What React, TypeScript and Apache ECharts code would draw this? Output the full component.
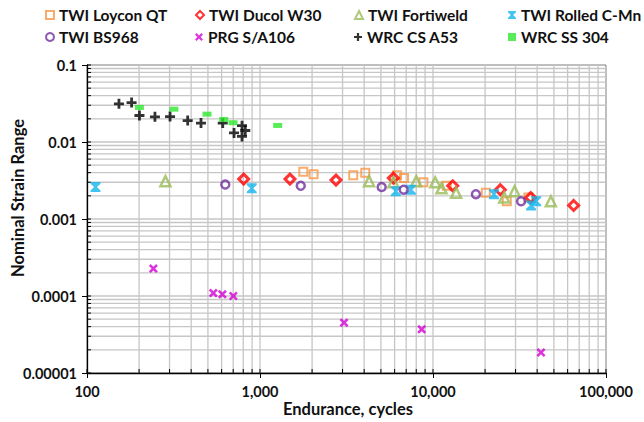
import React, { useEffect, useRef } from "react";
import * as echarts from "echarts";

// ---- data (Endurance cycles, Nominal strain range) ----
const loyconN = [1780, 2040, 3460, 4060, 6200, 6800, 8800, 12000, 20200, 26700, 35600];
const loyconS = [0.0041, 0.0038, 0.0037, 0.004, 0.0037, 0.0034, 0.003, 0.0027, 0.0022, 0.0017, 0.0019];

const ducolN = [805, 1490, 2750, 5900, 13000, 24500, 36700, 65000];
const ducolS = [0.0033, 0.0033, 0.0032, 0.0034, 0.0027, 0.0024, 0.0019, 0.0015];

const fortiN = [284, 4270, 5900, 8000, 10300, 11200, 13600, 25800, 29600, 48000];
const fortiS = [0.0031, 0.0031, 0.003, 0.0031, 0.003, 0.0025, 0.0022, 0.0019, 0.0023, 0.0017];

const rolledN = [112, 896, 6100, 7450, 22500, 36900, 39500];
const rolledS = [0.0026, 0.0025, 0.0023, 0.0024, 0.0021, 0.0015, 0.0017];

const bsN = [630, 1720, 5050, 6770, 17700, 32300];
const bsS = [0.0028, 0.0027, 0.0026, 0.0024, 0.0021, 0.0017];

const prgN = [242, 537, 606, 701, 3060, 8600, 42100];
const prgS = [0.000227, 0.000109, 0.000105, 0.0001, 0.0000451, 0.0000369, 0.0000185];

const wrcCsN = [153, 181, 201, 247, 302, 382, 456, 609, 708, 787, 822, 787];
const wrcCsS = [0.0313, 0.0325, 0.0221, 0.0212, 0.0214, 0.019, 0.0176, 0.0176, 0.0131, 0.0163, 0.0141, 0.0118];

const wrcSsN = [201, 318, 494, 617, 698, 1265];
const wrcSsS = [0.0281, 0.0267, 0.023, 0.0196, 0.0178, 0.0164];

const xMin = 100;
const xMax = 100000;
const yMin = 0.00001;
const yMax = 0.1;
const xDecades = [100, 1000, 10000];
const yDecades = [0.00001, 0.0001, 0.001, 0.01];
const multipliers = [1, 2, 3, 4, 5, 6, 7, 8, 9];

const xGridVals: number[] = [];
xDecades.forEach((d) => multipliers.forEach((m) => xGridVals.push(d * m)));
xGridVals.push(xMax);
const yGridVals: number[] = [];
yDecades.forEach((d) => multipliers.forEach((m) => yGridVals.push(+(d * m).toPrecision(3))));
yGridVals.push(yMax);

const zip = (a: number[], b: number[]) => a.map((v, i) => [v, b[i]]);

const PLUS = "path://M3.6,0H6.4V3.6H10V6.4H6.4V10H3.6V6.4H0V3.6H3.6Z";
const CROSS = "path://M0,2L2,0L5,3L8,0L10,2L7,5L10,8L8,10L5,7L2,10L0,8L3,5Z";
const HOURGLASS = "path://M0,0H10V1.6L6.4,5L10,8.4V10H0V8.4L3.6,5L0,1.6Z";

const FONT = "Lato";

type SeriesDef = {
  name: string;
  n: number[];
  s: number[];
  symbol: string;
  size: number | number[];
  color: string;
  hollow?: boolean;
  border?: number;
};

const seriesDefs: SeriesDef[] = [
  { name: "TWI Loycon QT", n: loyconN, s: loyconS, symbol: "rect", size: 8, color: "#F79646", hollow: true, border: 2 },
  { name: "TWI Ducol W30", n: ducolN, s: ducolS, symbol: "diamond", size: 10, color: "#FF0000", hollow: true, border: 3 },
  { name: "TWI Fortiweld", n: fortiN, s: fortiS, symbol: "triangle", size: 10, color: "#9BBB59", hollow: true, border: 2.5 },
  { name: "TWI Rolled C-Mn", n: rolledN, s: rolledS, symbol: HOURGLASS, size: 10, color: "#14B4EC" },
  { name: "TWI BS968", n: bsN, s: bsS, symbol: "circle", size: 8, color: "#7030A0", hollow: true, border: 2.5 },
  { name: "PRG S/A106", n: prgN, s: prgS, symbol: CROSS, size: 9, color: "#D400D4" },
  { name: "WRC CS A53", n: wrcCsN, s: wrcCsS, symbol: PLUS, size: 10, color: "#000000" },
  { name: "WRC SS 304", n: wrcSsN, s: wrcSsS, symbol: "rect", size: [9, 5], color: "#2EE82E" },
];

const legendCols = [45, 195, 354, 508];
const legendRows = [7, 29];

const fmtX = (v: number) => Math.round(v).toLocaleString("en-US");
const fmtY = (v: number) => {
  const e = Math.round(Math.log10(v));
  return e >= 0 ? String(Math.round(v)) : v.toFixed(-e);
};

export default function App() {
  const ref = useRef<HTMLDivElement>(null);
  useEffect(() => {
    if (!ref.current) return;
    const chart = echarts.init(ref.current, undefined, { renderer: "svg" });

    const legends = seriesDefs.map((d, i) => ({
      data: [d.name],
      left: legendCols[i % 4],
      top: legendRows[Math.floor(i / 4)],
      itemWidth: 8,
      itemHeight: 8,
      padding: 0,
      selectedMode: false,
      textStyle: { fontFamily: FONT, fontWeight: "bold", fontSize: 15.5, color: "#111" },
    }));

    const scatter = seriesDefs.map((d) => ({
      type: "scatter",
      name: d.name,
      data: zip(d.n, d.s),
      symbol: d.symbol,
      symbolSize: d.size,
      z: 4,
      itemStyle: d.hollow
        ? { color: "rgba(255,255,255,0)", borderColor: d.color, borderWidth: d.border }
        : { color: d.color },
    }));

    // kind: 0 = vertical grid line, 1 = horizontal grid line, 2 = bottom inner tick, 3 = left inner tick
    const renderLine = (params: any, api: any) => {
      const cs = params.coordSys;
      const p = api.coord([api.value(0), api.value(1)]);
      const kind = api.value(2);
      let shape;
      let style;
      if (kind === 0) {
        shape = { x1: p[0], y1: cs.y, x2: p[0], y2: cs.y + cs.height };
        style = { stroke: "#c6c6c6", lineWidth: 1.3 };
      } else if (kind === 1) {
        shape = { x1: cs.x, y1: p[1], x2: cs.x + cs.width, y2: p[1] };
        style = { stroke: "#c6c6c6", lineWidth: 1.3 };
      } else if (kind === 2) {
        shape = { x1: p[0], y1: p[1], x2: p[0], y2: p[1] - 4 };
        style = { stroke: "#000", lineWidth: 1 };
      } else {
        shape = { x1: p[0], y1: p[1], x2: p[0] + 4, y2: p[1] };
        style = { stroke: "#000", lineWidth: 1 };
      }
      return { type: "line", shape, style, silent: true };
    };

    const gridData = [
      ...xGridVals.filter((v) => v > xMin && v < xMax).map((v) => [v, yMin, 0]),
      ...yGridVals.filter((v) => v > yMin && v < yMax).map((v) => [xMin, v, 1]),
    ];
    const tickData = [
      ...xGridVals.map((v) => [v, yMin, 2]),
      ...yGridVals.map((v) => [xMin, v, 3]),
    ];

    const option: any = {
      animation: false,
      backgroundColor: "#fff",
      textStyle: { fontFamily: FONT },
      legend: legends,
      grid: {
        left: 87,
        right: 38,
        top: 65,
        bottom: 49,
        show: true,
        borderColor: "#7f7f7f",
        borderWidth: 1,
        backgroundColor: "#fff",
      },
      xAxis: {
        type: "log",
        logBase: 10,
        min: xMin,
        max: xMax,
        z: 5,
        axisLine: { lineStyle: { color: "#000", width: 1.3 } },
        axisTick: { show: true, length: 5, lineStyle: { color: "#000" } },
        axisLabel: {
          formatter: fmtX,
          fontFamily: FONT,
          fontWeight: "bold",
          fontSize: 14.5,
          color: "#111",
          margin: 11,
        },
        splitLine: { show: false },
      },
      yAxis: {
        type: "log",
        logBase: 10,
        min: yMin,
        max: yMax,
        z: 5,
        axisLine: { lineStyle: { color: "#000", width: 1.3 } },
        axisTick: { show: true, length: 5, lineStyle: { color: "#000" } },
        axisLabel: {
          formatter: fmtY,
          fontFamily: FONT,
          fontWeight: "bold",
          fontSize: 14.5,
          color: "#111",
          margin: 10,
        },
        splitLine: { show: false },
      },
      graphic: [
        {
          type: "text",
          x: 18,
          y: 198,
          rotation: Math.PI / 2,
          style: {
            text: "Nominal Strain Range",
            fontFamily: FONT,
            fontWeight: "bold",
            fontSize: 16.5,
            fill: "#111",
            textAlign: "center",
            textVerticalAlign: "middle",
          },
        },
        {
          type: "text",
          x: 348,
          y: 409,
          style: {
            text: "Endurance, cycles",
            fontFamily: FONT,
            fontWeight: "bold",
            fontSize: 16.5,
            fill: "#111",
            textAlign: "center",
            textVerticalAlign: "middle",
          },
        },
      ],
      series: [
        {
          type: "custom",
          name: "gridlines",
          silent: true,
          clip: false,
          z: 1,
          renderItem: renderLine,
          data: gridData,
        },
        {
          type: "custom",
          name: "ticks",
          silent: true,
          clip: false,
          z: 3,
          renderItem: renderLine,
          data: tickData,
        },
        ...scatter,
      ],
    };
    chart.setOption(option);
    return () => chart.dispose();
  }, []);
  return (
    <div
      ref={ref}
      style={{ position: "fixed", left: 0, top: 0, width: 644, height: 422, background: "#fff" }}
    />
  );
}
